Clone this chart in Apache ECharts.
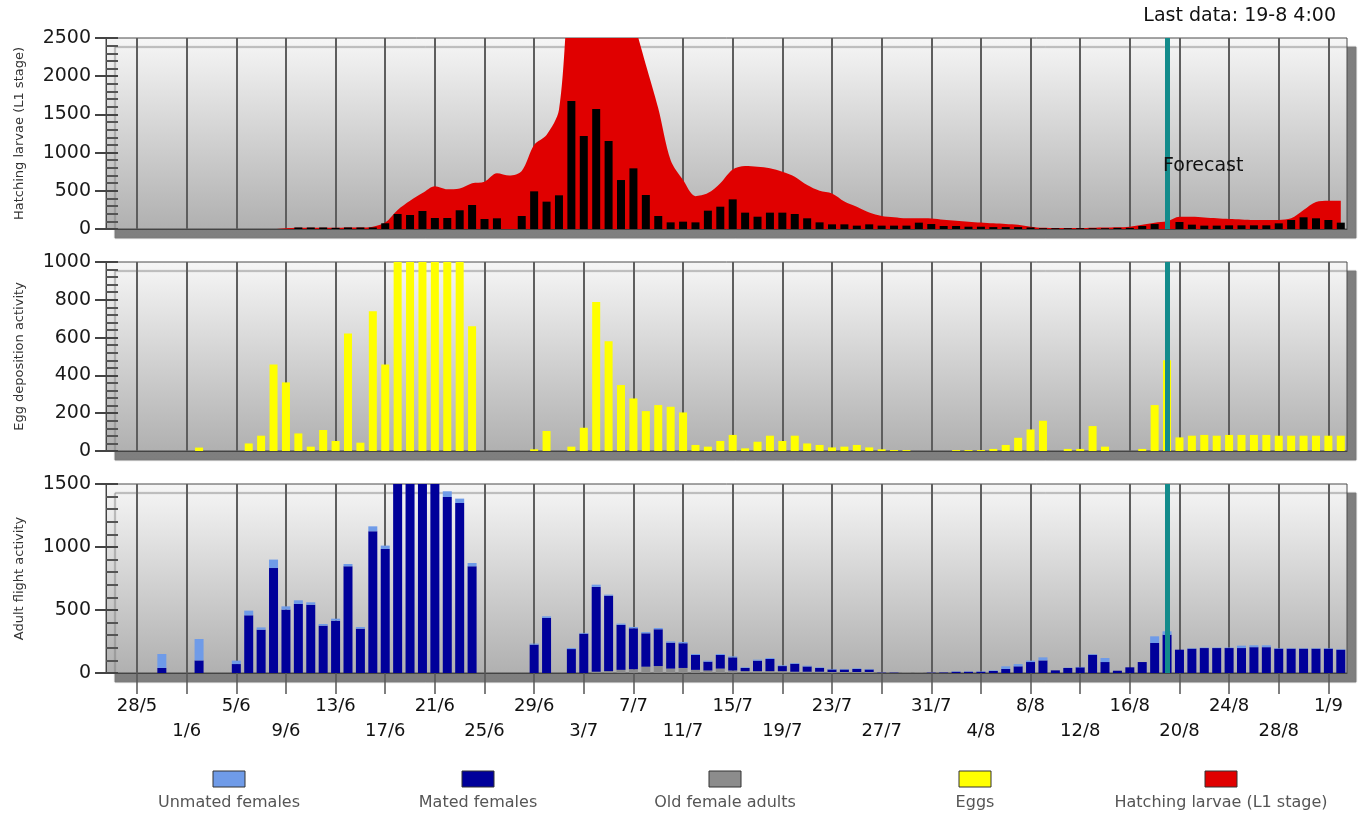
<!DOCTYPE html>
<html><head><meta charset="utf-8">
<script src="https://cdn.jsdelivr.net/npm/echarts/dist/echarts.min.js"></script>
<style>html,body{margin:0;padding:0;background:#fff}#c{width:1360px;height:818px}</style>
</head><body><div id="c"></div>
<script>
const days = ['26/5','27/5','28/5','29/5','30/5','31/5',
 '1/6','2/6','3/6','4/6','5/6','6/6','7/6','8/6','9/6','10/6','11/6','12/6','13/6','14/6','15/6','16/6','17/6','18/6','19/6','20/6','21/6','22/6','23/6','24/6','25/6','26/6','27/6','28/6','29/6','30/6',
 '1/7','2/7','3/7','4/7','5/7','6/7','7/7','8/7','9/7','10/7','11/7','12/7','13/7','14/7','15/7','16/7','17/7','18/7','19/7','20/7','21/7','22/7','23/7','24/7','25/7','26/7','27/7','28/7','29/7','30/7','31/7',
 '1/8','2/8','3/8','4/8','5/8','6/8','7/8','8/8','9/8','10/8','11/8','12/8','13/8','14/8','15/8','16/8','17/8','18/8','19/8','20/8','21/8','22/8','23/8','24/8','25/8','26/8','27/8','28/8','29/8','30/8','31/8',
 '1/9','2/9'];
const forecastDay = '19/8';
const lastDataText = 'Last data: 19-8 4:00';

const larvaeArea = [0,0,0,0,0,0,0,0,0,0,0,0,0,0,
 10,15,15,15,15,20,20,30,
 85,250,370,470,560,520,530,600,620,730,
 700,760,1100,1230,1560,3400,3700,3800,3600,3200,
 2720,2150,1580,900,640,430,470,600,780,825,
 815,795,750,685,575,500,465,360,290,215,
 170,155,140,140,138,120,108,96,85,74,
 65,55,30,15,12,12,12,15,18,22,
 30,55,83,100,160,160,150,140,130,125,
 118,118,118,140,250,355,370,370];
const larvaeDaily = [0,0,0,0,0,0,0,0,0,0,0,0,0,0,
 0,20,20,20,15,20,20,20,
 75,196,183,236,144,144,245,314,131,140,
 0,170,493,358,441,1676,1217,1571,1152,641,
 794,445,170,87,96,87,240,292,388,214,
 161,214,214,196,140,87,61,61,44,61,
 44,44,44,83,65,39,39,30,30,25,
 25,25,20,10,10,10,10,10,10,15,
 15,39,65,0,92,57,44,44,48,48,
 48,48,74,118,153,140,118,83];
const eggs = [0,0,0,0,0,0,0,18,0,0,
 0,40,81,458,363,93,23,111,53,622,
 44,740,458,1300,1500,1600,1500,1400,1100,660,
 0,0,0,0,9,106,0,23,123,789,
 581,349,278,211,243,234,204,32,23,53,
 85,14,49,81,53,81,40,32,19,23,
 32,19,9,5,5,0,0,0,5,5,
 5,11,32,70,114,160,0,11,11,132,
 23,0,0,11,243,480,72,81,85,81,
 85,85,85,85,81,81,81,81,81,81];
const oldFemales = [0,0,0,0,0,0,0,0,0,0,
 0,0,0,0,0,0,0,0,0,0,
 0,0,0,0,0,0,0,0,0,0,
 0,0,0,0,0,0,0,0,0,10,
 15,25,30,50,55,35,40,25,20,35,
 20,15,15,15,15,10,10,10,8,8,
 8,8,5,5,5,5,5,4,0,0,
 0,0,0,0,0,0,0,0,0,0,
 0,0,0,0,0,0,0,0,0,0,
 0,0,0,0,0,0,0,0,0,0];
const matedFemales = [0,0,0,0,40,0,0,100,0,0,
 71,458,344,833,503,548,542,376,415,847,
 352,1125,984,1700,1800,1800,1700,1397,1349,847,
 0,0,0,0,225,437,0,190,312,673,
 599,357,325,265,292,206,196,118,70,108,
 104,25,83,96,40,63,42,30,20,20,
 24,20,3,3,0,0,3,4,10,10,
 10,16,32,53,87,100,21,40,45,145,
 87,18,45,87,238,304,185,193,198,198,
 198,198,205,205,193,193,193,193,193,185];
const unmatedFemales = [0,0,0,0,111,0,0,170,0,0,
 27,37,18,67,26,29,19,13,16,18,
 13,39,27,0,0,0,0,45,35,26,
 0,0,0,0,8,13,0,8,6,18,
 8,10,10,10,10,10,10,8,8,8,
 8,5,8,8,6,6,6,5,4,4,
 5,4,0,0,0,0,0,0,3,3,
 3,5,21,18,11,24,0,2,3,6,
 32,0,0,0,53,27,0,4,4,4,
 4,19,15,15,4,4,4,4,4,4];

const legendNames = ['Unmated females','Mated females','Old female adults','Eggs','Hatching larvae (L1 stage)'];
const legendColors = ['#6f9be8','#00009a','#8c8c8c','#ffff00','#e00000'];
const legendCenters = [229, 478, 725, 975, 1221];

const FONT = 'DejaVu Sans';
const isTick = (i) => i >= 2 && (i - 2) % 4 === 0;

function bg() {
  return new echarts.graphic.LinearGradient(0, 0, 0, 1, [
    {offset: 0, color: '#f6f6f6'}, {offset: 1, color: '#b0b0b0'}]);
}
function grid(top, height) {
  return {left: 106, right: 13, top, height, show: true, backgroundColor: bg(),
    borderColor: '#4a4a4a', borderWidth: 1,
    shadowColor: 'rgba(120,120,120,0.95)', shadowOffsetX: 9, shadowOffsetY: 9, shadowBlur: 1};
}
function xAxis(gi, showLabels) {
  return {
    type: 'category', gridIndex: gi, data: days, boundaryGap: true,
    axisLine: {show: true, lineStyle: {color: '#444'}},
    axisTick: {show: showLabels, interval: (i) => isTick(i), alignWithLabel: true, length: 21,
      lineStyle: {color: '#555', width: 1.5}},
    axisLabel: {show: showLabels, interval: (i) => isTick(i),
      formatter: (v, i) => (((i - 2) / 4) % 2 === 1 ? '\n' + v : v),
      fontFamily: FONT, fontSize: 18, color: '#111', lineHeight: 25, margin: 21},
    splitLine: {show: true, interval: (i) => isTick(i), alignWithLabel: true,
      lineStyle: {color: '#5e5e5e', width: 2}}
  };
}
function yPair(gi, max, interval, name) {
  return [
    {type: 'value', gridIndex: gi, min: 0, max, interval, name, nameLocation: 'middle', nameGap: 80,
      nameRotate: 90, nameTextStyle: {fontFamily: FONT, fontSize: 13, color: '#333'},
      axisLine: {show: true, lineStyle: {color: '#444', width: 1}},
      axisTick: {show: true, inside: false, length: 11, lineStyle: {color: '#444', width: 2}},
      axisLabel: {fontFamily: FONT, fontSize: 19, color: '#1a1a1a', margin: 15,
        formatter: (v) => String(v)},
      splitLine: {show: false}},
    {type: 'value', gridIndex: gi, min: 0, max, interval, position: 'left',
      axisLine: {show: false}, axisLabel: {show: false}, splitLine: {show: false},
      axisTick: {show: true, inside: true, length: 12, lineStyle: {color: '#444', width: 2}},
      minorTick: {show: true, splitNumber: 5, length: 12, lineStyle: {color: '#555', width: 2}}}
  ];
}
const forecastLine = {
  silent: true, symbol: ['none', 'none'], label: {show: false}, animation: false,
  lineStyle: {color: '#138b8b', width: 5, type: 'solid', opacity: 1},
  data: [{xAxis: forecastDay}]
};

const graphics = [
  {type: 'text', right: 24, top: 7, style: {text: lastDataText, font: '19px "DejaVu Sans"', fill: '#111'}},
  {type: 'text', left: 1163, top: 157, z: 10, style: {text: 'Forecast', font: '19px "DejaVu Sans"', fill: '#111'}}
];
legendNames.forEach((n, k) => {
  const cx = legendCenters[k];
  graphics.push({type: 'rect', shape: {x: cx - 16, y: 771, width: 32, height: 16},
    style: {fill: legendColors[k], stroke: '#333', lineWidth: 1}});
  graphics.push({type: 'text', x: cx, y: 803,
    style: {text: n, font: '16px "DejaVu Sans"', fill: '#555', align: 'center', verticalAlign: 'middle'}});
});

const chart = echarts.init(document.getElementById('c'));
chart.setOption({
  animation: false,
  backgroundColor: '#ffffff',
  grid: [grid(38, 191), grid(262, 189), grid(484, 189)],
  xAxis: [xAxis(0, false), xAxis(1, false), xAxis(2, true)],
  yAxis: [].concat(
    yPair(0, 2500, 500, 'Hatching larvae (L1 stage)'),
    yPair(1, 1000, 200, 'Egg deposition activity'),
    yPair(2, 1500, 500, 'Adult flight activity')),
  series: [
    {name: 'Hatching larvae (L1 stage)', type: 'line', xAxisIndex: 0, yAxisIndex: 0, data: larvaeArea,
      smooth: 0.3, symbol: 'none', clip: true, z: 2,
      lineStyle: {width: 0, color: '#e00000'}, areaStyle: {color: '#e00000', opacity: 1},
      markLine: forecastLine},
    {name: 'Daily hatching', type: 'bar', xAxisIndex: 0, yAxisIndex: 0, data: larvaeDaily,
      barWidth: 8, z: 3, itemStyle: {color: '#000000'}},
    {name: 'Eggs', type: 'bar', xAxisIndex: 1, yAxisIndex: 2, data: eggs, barWidth: 8,
      itemStyle: {color: '#ffff00'}, markLine: forecastLine},
    {name: 'Old female adults', type: 'bar', xAxisIndex: 2, yAxisIndex: 4, stack: 'f', data: oldFemales,
      barWidth: 9, itemStyle: {color: '#8c8c8c'}},
    {name: 'Mated females', type: 'bar', xAxisIndex: 2, yAxisIndex: 4, stack: 'f', data: matedFemales,
      barWidth: 9, itemStyle: {color: '#00009a'}, markLine: forecastLine},
    {name: 'Unmated females', type: 'bar', xAxisIndex: 2, yAxisIndex: 4, stack: 'f', data: unmatedFemales,
      barWidth: 9, itemStyle: {color: '#6f9be8'}}
  ],
  graphic: graphics
});
</script></body></html>
